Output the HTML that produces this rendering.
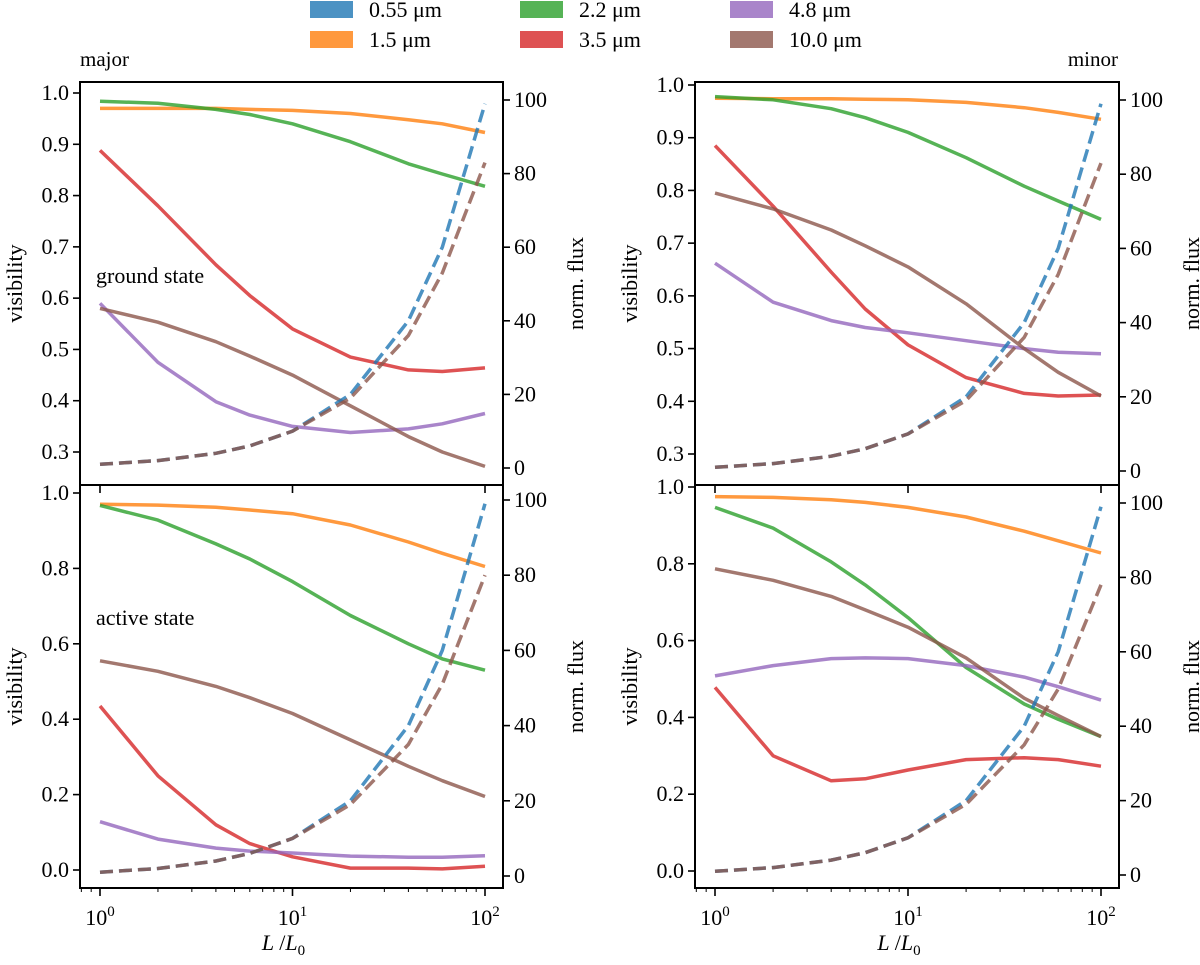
<!DOCTYPE html>
<html><head><meta charset="utf-8"><style>
body{margin:0;background:#fff}
svg, svg text{font-family:"Liberation Serif","DejaVu Serif",serif !important;fill:#000}
</style></head><body>
<svg id="fig" width="1200" height="960" viewBox="0 0 1200 960" xmlns="http://www.w3.org/2000/svg" font-family="Liberation Serif, serif">
<g id="legend"></g>
<text x="80" y="66" font-size="21">major</text>
<text x="1118" y="66" font-size="21" text-anchor="end">minor</text>
</svg>
<script>
const xs = [1,2,4,6,10,20,40,60,100];
const fluxBlue = [1,2,4,6,10,20,40,60,99];
const fluxBrownTL = [1,2,4,6,10,19,36,53,83];
const fluxBrownTR = [1,2,4,6,10,19,36,53,83];
const fluxBrownBL = [1,2,4,6,10,19,35,51,80];
const fluxBrownBR = [1,2,4,6,10,19,35,50,78];
// major ground
const tlOrange=[0.97,0.97,0.97,0.968,0.966,0.96,0.948,0.94,0.923];
const tlGreen=[0.984,0.98,0.968,0.958,0.94,0.905,0.862,0.842,0.818];
const tlRed=[0.888,0.78,0.665,0.605,0.54,0.485,0.46,0.457,0.464];
const tlPurple=[0.59,0.475,0.398,0.372,0.35,0.338,0.345,0.355,0.375];
const tlBrown=[0.58,0.553,0.515,0.487,0.45,0.39,0.33,0.3,0.272];
// minor ground
const trOrange=[0.975,0.974,0.974,0.973,0.972,0.967,0.957,0.948,0.935];
const trGreen=[0.978,0.972,0.955,0.938,0.91,0.862,0.808,0.78,0.745];
const trRed=[0.885,0.77,0.645,0.575,0.507,0.445,0.415,0.41,0.412];
const trPurple=[0.662,0.588,0.553,0.54,0.53,0.515,0.5,0.493,0.49];
const trBrown=[0.795,0.765,0.725,0.695,0.655,0.585,0.5,0.455,0.41];
// major active
const blOrange=[0.97,0.968,0.962,0.955,0.945,0.915,0.87,0.84,0.805];
const blGreen=[0.967,0.928,0.865,0.825,0.765,0.675,0.6,0.56,0.53];
const blRed=[0.435,0.25,0.12,0.07,0.035,0.005,0.005,0.003,0.01];
const blPurple=[0.128,0.082,0.058,0.05,0.045,0.037,0.034,0.034,0.038];
const blBrown=[0.555,0.527,0.487,0.457,0.415,0.345,0.275,0.237,0.195];
// minor active
const brOrange=[0.975,0.973,0.967,0.96,0.947,0.922,0.885,0.86,0.828];
const brGreen=[0.947,0.893,0.805,0.745,0.66,0.53,0.435,0.395,0.35];
const brRed=[0.478,0.3,0.235,0.24,0.263,0.29,0.295,0.29,0.273];
const brPurple=[0.508,0.535,0.553,0.555,0.553,0.535,0.505,0.48,0.445];
const brBrown=[0.787,0.757,0.715,0.68,0.635,0.555,0.45,0.405,0.35];
const legendLabels=["0.55 \u03bcm","1.5 \u03bcm","2.2 \u03bcm","3.5 \u03bcm","4.8 \u03bcm","10.0 \u03bcm"];
const topVisTicks=[0.3,0.4,0.5,0.6,0.7,0.8,0.9,1.0];
const botVisTicks=[0,0.2,0.4,0.6,0.8,1.0];
const fluxTicks=[0,20,40,60,80,100];

const C={blue:"#1f77b4",orange:"#ff7f0e",green:"#2ca02c",red:"#d62728",purple:"#9467bd",brown:"#8c564b"};
const legendColors=[C.blue,C.orange,C.green,C.red,C.purple,C.brown];
const NS="http://www.w3.org/2000/svg";
const svg=document.getElementById('fig');
const FS=22;
function mk(tag,attrs,parent){const e=document.createElementNS(NS,tag);for(const k in attrs)e.setAttribute(k,attrs[k]);(parent||svg).appendChild(e);return e;}

const lg=document.getElementById('legend');
legendLabels.forEach((lab,i)=>{
  const col=Math.floor(i/2), row=i%2;
  const x=310+col*210, y=1+row*30;
  const r=mk('rect',{x:x,y:y,width:43,height:17,fill:legendColors[i],opacity:0.8},lg);
  
  
  const t=mk('text',{x:x+59,y:y+16,'font-size':FS},lg);
  t.textContent=lab;
  
  
});

function panel(p){
  const g=mk('g',{});
  
  
  const X=v=>p.x0+(Math.log10(v))*(p.x2-p.x0)/2;
  const Y=v=>p.y1v+(p.topV-v)*(p.y0v-p.y1v)/(p.topV-p.botV);
  const YF=v=>p.yf0+(v)*(p.yf100-p.yf0)/100;
  const clip='clip-'+p.name;
  const cp=mk('clipPath',{id:clip},g);
  mk('rect',{x:p.L,y:p.T,width:p.R-p.L,height:p.B-p.T},cp);
  const path=(arr,fn)=>arr.map((v,i)=>(i?'L':'M')+X(xs[i]).toFixed(1)+','+fn(v).toFixed(1)).join(' ');
  const lines=[[p.orange,C.orange,'orange'],[p.green,C.green,'green'],[p.red,C.red,'red'],[p.purple,C.purple,'purple'],[p.brown,C.brown,'brown']];
  lines.forEach(([arr,c,n])=>{
    const e=mk('path',{d:path(arr,Y),fill:'none',stroke:c,'stroke-width':3.5,'stroke-opacity':0.8,'stroke-linejoin':'round','clip-path':'url(#'+clip+')'},g);
    
    
  });
  const fb=mk('path',{d:path(fluxBlue,YF),fill:'none',stroke:C.blue,'stroke-width':3.5,'stroke-opacity':0.8,'stroke-dasharray':'13,6','clip-path':'url(#'+clip+')'},g);
  
  
  const fr=mk('path',{d:path(p.fluxBrown,YF),fill:'none',stroke:C.brown,'stroke-width':3.5,'stroke-opacity':0.8,'stroke-dasharray':'13,6','clip-path':'url(#'+clip+')'},g);
  
  
  const fr2=mk('rect',{x:p.L,y:p.T,width:p.R-p.L,height:p.B-p.T,fill:'none',stroke:'#000','stroke-width':2},g);
  
  
  p.visTicks.forEach(v=>{
    const y=Y(v);
    mk('line',{x1:p.L-7,x2:p.L,y1:y,y2:y,stroke:'#000','stroke-width':1.6},g);
    const t=mk('text',{x:p.L-11,y:y+7,'font-size':FS,'text-anchor':'end'},g);
    t.textContent=v.toFixed(1);
    
    
  });
  fluxTicks.forEach(v=>{
    const y=YF(v);
    mk('line',{x1:p.R,x2:p.R+7,y1:y,y2:y,stroke:'#000','stroke-width':1.6},g);
    const t=mk('text',{x:p.R+11,y:y+7,'font-size':FS},g);
    t.textContent=v;
    
    
  });
  [0,1,2].forEach(k=>{
    const x=X(Math.pow(10,k));
    mk('line',{x1:x,x2:x,y1:p.B,y2:p.B+8,stroke:'#000','stroke-width':1.6},g);
    if(p.bottom){
      const t=mk('text',{x:x,y:p.B+37,'font-size':FS,'text-anchor':'middle'},g);
      t.innerHTML='10<tspan dy="-9" font-size="15">'+k+'</tspan>';
      
      
    }
  });
  if(p.bottom){
    [0.8,0.9,2,3,4,5,6,7,8,9,20,30,40,50,60,70,80,90].forEach(v=>{
      const x=X(v); if(x<p.L)return;
      mk('line',{x1:x,x2:x,y1:p.B,y2:p.B+4,stroke:'#000','stroke-width':1},g);
    });
    const xl=mk('text',{x:(p.L+p.R)/2-8,y:950,'font-size':FS,'text-anchor':'middle','font-style':'italic'},g);
    xl.innerHTML='L <tspan font-style="normal">/</tspan>L<tspan dy="5" font-size="15" font-style="normal">0</tspan>';
    
    
  }
  const mid=(p.T+p.B)/2;
  const yl=mk('text',{x:0,y:0,'font-size':FS,'text-anchor':'middle',transform:'translate('+(p.L-58)+','+mid+') rotate(-90)'},g);
  yl.textContent='visibility';
  
  
  const fl=mk('text',{x:0,y:0,'font-size':FS,'text-anchor':'middle',transform:'translate('+(p.R+80)+','+mid+') rotate(-90)'},g);
  fl.textContent='norm. flux';
  
  
  if(p.note){
    const t=mk('text',{x:p.L+16,y:p.noteY,'font-size':FS},g);
    t.textContent=p.note;
    
    
  }
}
panel({name:'panel-major-ground',L:80,R:503,T:82,B:485,x0:100,x2:485,topV:1.0,botV:0.3,y1v:93,y0v:452,yf0:468,yf100:100,
  visTicks:topVisTicks,orange:tlOrange,green:tlGreen,red:tlRed,purple:tlPurple,brown:tlBrown,fluxBrown:fluxBrownTL,note:'ground state',noteY:283});
panel({name:'panel-minor-ground',L:695,R:1119,T:82,B:485,x0:715,x2:1101,topV:1.0,botV:0.3,y1v:85,y0v:454,yf0:471,yf100:100,
  visTicks:topVisTicks,orange:trOrange,green:trGreen,red:trRed,purple:trPurple,brown:trBrown,fluxBrown:fluxBrownTR});
panel({name:'panel-major-active',L:80,R:503,T:485,B:888,x0:100,x2:485,topV:1.0,botV:0,y1v:493,y0v:870,yf0:876,yf100:500,bottom:true,
  visTicks:botVisTicks,orange:blOrange,green:blGreen,red:blRed,purple:blPurple,brown:blBrown,fluxBrown:fluxBrownBL,note:'active state',noteY:625});
panel({name:'panel-minor-active',L:695,R:1119,T:485,B:888,x0:715,x2:1101,topV:1.0,botV:0,y1v:487,y0v:871,yf0:875,yf100:503,bottom:true,
  visTicks:botVisTicks,orange:brOrange,green:brGreen,red:brRed,purple:brPurple,brown:brBrown,fluxBrown:fluxBrownBR});
</script>
</body></html>
